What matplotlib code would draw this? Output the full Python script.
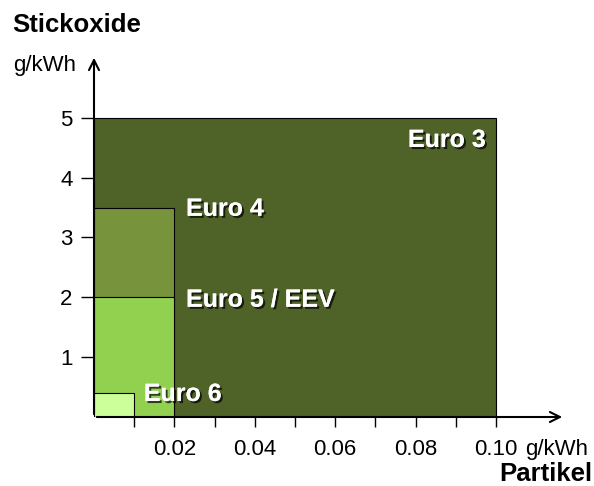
import matplotlib.pyplot as plt
import matplotlib.patheffects as pe

# Grenzwerte (Partikel g/kWh, Stickoxide g/kWh)
stufen = ['Euro 3', 'Euro 4', 'Euro 5 / EEV', 'Euro 6']
partikel = [0.10, 0.02, 0.02, 0.01]
stickoxide = [5.0, 3.5, 2.0, 0.4]
farben = ['#4f6228', '#77933c', '#92d050', '#ccff99']

x_ticks = [0.01, 0.02, 0.03, 0.04, 0.05, 0.06, 0.07, 0.08, 0.09, 0.10]
x_labels = ['', '0.02', '', '0.04', '', '0.06', '', '0.08', '', '0.10']
y_ticks = [1, 2, 3, 4, 5]

plt.rcParams['font.family'] = ['Liberation Sans', 'DejaVu Sans']

W, H = 594, 486
fig = plt.figure(figsize=(W / 100, H / 100), dpi=100)
ax = fig.add_axes([94 / W, 69 / H, (565 - 94) / W, (417 - 55) / H])
ax.set_xlim(0, 0.1172)
ax.set_ylim(0, 6.05)

# Rechtecke von groß nach klein
for p, s, f in zip(partikel, stickoxide, farben):
    ax.bar(0, s, width=p, align='edge', color=f, edgecolor='black', linewidth=0.8, zorder=2)

schatten = [pe.withSimplePatchShadow(offset=(1.5, -1.5), shadow_rgbFace='black', alpha=0.7), pe.Normal()]
# Beschriftungen
ax.text(partikel[0] - 0.0025, stickoxide[0] - 0.37, stufen[0], ha='right', va='center',
        color='white', fontsize=18, fontweight='bold', path_effects=schatten, zorder=5)
ax.text(partikel[1] + 0.0029, stickoxide[1] - 0.02, stufen[1], ha='left', va='center',
        color='white', fontsize=18, fontweight='bold', path_effects=schatten, zorder=5)
ax.text(partikel[2] + 0.0029, stickoxide[2] - 0.04, stufen[2], ha='left', va='center',
        color='white', fontsize=18, fontweight='bold', path_effects=schatten, zorder=5)
ax.text(partikel[3] + 0.0024, stickoxide[3] - 0.015, stufen[3], ha='left', va='center',
        color='white', fontsize=18, fontweight='bold', path_effects=schatten, zorder=5)

# Achsen als Pfeile
for sp in ax.spines.values():
    sp.set_visible(False)
ax.annotate('', xy=(1, 0), xytext=(0, 0), xycoords='axes fraction',
            arrowprops=dict(arrowstyle='->', lw=1.5, color='black', mutation_scale=18), zorder=6)
ax.annotate('', xy=(0, 1), xytext=(0, 0), xycoords='axes fraction',
            arrowprops=dict(arrowstyle='->', lw=1.5, color='black', mutation_scale=18), zorder=6)

ax.set_xticks(x_ticks)
ax.set_xticklabels(x_labels)
ax.set_yticks(y_ticks)
ax.tick_params(axis='x', direction='out', length=7, width=1, pad=9, labelsize=16)
ax.tick_params(axis='y', direction='out', length=9.5, width=1, pad=6, labelsize=16)

ax.text(0.1072, -0.105, 'g/kWh', transform=ax.get_xaxis_transform(), ha='left', va='baseline', fontsize=16)

fig.text(12 / W, 1 - 25 / H, 'Stickoxide', ha='left', va='center', fontsize=18.5, fontweight='bold')
fig.text(45 / W, 1 - 65 / H, 'g/kWh', ha='center', va='center', fontsize=16)
fig.text(592 / W, 1 - 474 / H, 'Partikel', ha='right', va='center', fontsize=18.5, fontweight='bold')

fig.savefig('out.png', dpi=100)
